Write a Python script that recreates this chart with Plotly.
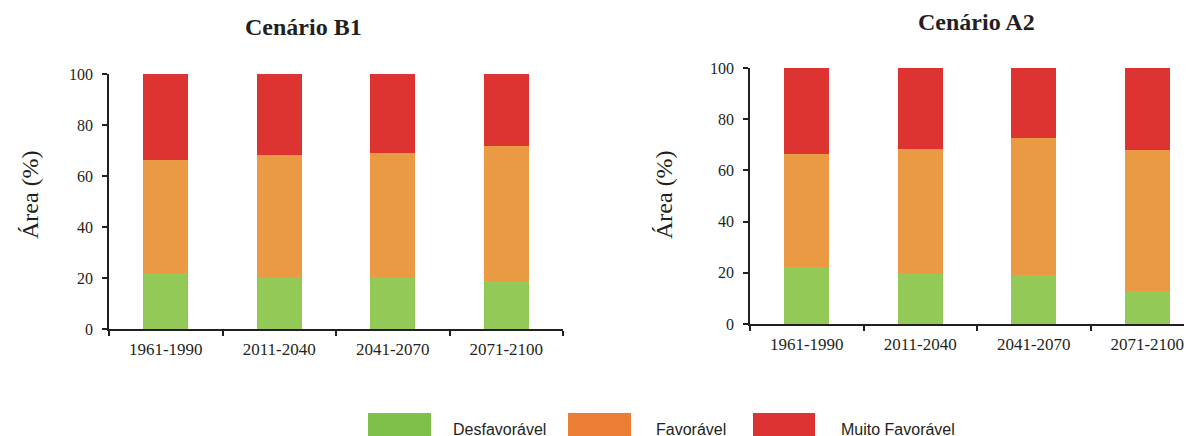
import plotly.graph_objects as go

W, H = 1192, 436
OX, OY = 8, 8  # page body margin offset

periods = ["1961-1990", "2011-2040", "2041-2070", "2071-2100"]

# Cenário B1
b1_desfavoravel = [22.1, 20.3, 20.3, 18.8]
b1_favoravel = [44.1, 48.1, 48.9, 53.0]
b1_muito_favoravel = [33.8, 31.6, 30.8, 28.2]

# Cenário A2
a2_desfavoravel = [22.1, 20.1, 19.1, 12.7]
a2_favoravel = [44.3, 48.3, 53.5, 55.2]
a2_muito_favoravel = [33.6, 31.6, 27.4, 32.1]

series_names = ["Desfavorável", "Favorável", "Muito Favorável"]
bar_colors = ["#92C957", "#EB9A44", "#DD3431"]
legend_colors = ["#7DC14B", "#EB7D34", "#DD3333"]

yticks = [0, 20, 40, 60, 80, 100]

TXT = "#231F20"
SERIF = "Liberation Serif"
SANS = "Liberation Sans"


def px(x):
    return (x - OX) / W


def py(y):
    return 1 - (y - OY) / H


fig = go.Figure()

for vals, name, col in zip([b1_desfavoravel, b1_favoravel, b1_muito_favoravel], series_names, bar_colors):
    fig.add_trace(go.Bar(x=periods, y=vals, name=name, marker=dict(color=col, line=dict(width=0)),
                         width=0.4, xaxis="x", yaxis="y", showlegend=False))
for vals, name, col in zip([a2_desfavoravel, a2_favoravel, a2_muito_favoravel], series_names, bar_colors):
    fig.add_trace(go.Bar(x=periods, y=vals, name=name, marker=dict(color=col, line=dict(width=0)),
                         width=0.4, xaxis="x2", yaxis="y2", showlegend=False))

xaxis_common = dict(type="category", showline=True, linecolor=TXT, linewidth=1.5,
                    ticks="outside", tickson="boundaries", ticklen=5, tickcolor=TXT, tickwidth=1.5,
                    showgrid=False, zeroline=False, automargin=False, ticklabelstandoff=4,
                    tickfont=dict(family=SERIF, size=17, color=TXT))
yaxis_common = dict(range=[0, 100], tickvals=yticks, showline=True, linecolor=TXT, linewidth=1.5,
                    ticks="outside", ticklen=5, tickcolor=TXT, tickwidth=1.5,
                    showgrid=False, zeroline=False, ticklabelstandoff=6, automargin=False,
                    tickfont=dict(family=SERIF, size=16, color=TXT))

fig.update_layout(
    template="none",
    width=W, height=H, autosize=False,
    margin=dict(l=0, r=0, t=0, b=0, pad=0),
    paper_bgcolor="white", plot_bgcolor="white",
    barmode="stack",
    showlegend=False,
    xaxis=dict(domain=[px(109), px(563)], range=[-0.5, 3.5], anchor="y", **xaxis_common),
    yaxis=dict(domain=[py(329), py(74)], anchor="x", **yaxis_common),
    xaxis2=dict(domain=[px(750), 1.0], range=[-0.5, -0.5 + (W + OX - 750) / 113.5], anchor="y2", **xaxis_common),
    yaxis2=dict(domain=[py(324), py(68)], anchor="x2", **yaxis_common),
)

annotations = [
    dict(text="<b>Cenário B1</b>", x=px(303), y=py(27), xref="paper", yref="paper",
         xanchor="center", yanchor="middle", showarrow=False,
         font=dict(family=SERIF, size=24, color=TXT)),
    dict(text="<b>Cenário A2</b>", x=px(976), y=py(22), xref="paper", yref="paper",
         xanchor="center", yanchor="middle", showarrow=False,
         font=dict(family=SERIF, size=24, color=TXT)),
    dict(text="Área (%)", x=px(30), y=py(195), xref="paper", yref="paper", textangle=-90,
         xanchor="center", yanchor="middle", showarrow=False,
         font=dict(family=SERIF, size=24, color=TXT)),
    dict(text="Área (%)", x=px(664), y=py(195), xref="paper", yref="paper", textangle=-90,
         xanchor="center", yanchor="middle", showarrow=False,
         font=dict(family=SERIF, size=24, color=TXT)),
]

legend_boxes = [(368, 431), (568, 631), (753, 815)]
legend_text_x = [451, 654, 839]
shapes = []
for (x0, x1), tx, name, col in zip(legend_boxes, legend_text_x, series_names, legend_colors):
    shapes.append(dict(type="rect", xref="paper", yref="paper", x0=px(x0), x1=px(x1),
                       y0=py(445), y1=py(413), fillcolor=col, line=dict(width=0)))
    annotations.append(dict(text=name, x=px(tx), y=py(429), xref="paper", yref="paper",
                            xanchor="left", yanchor="middle", showarrow=False,
                            font=dict(family=SANS, size=16, color=TXT)))

fig.update_layout(annotations=annotations, shapes=shapes)

fig.write_html("out.html")
